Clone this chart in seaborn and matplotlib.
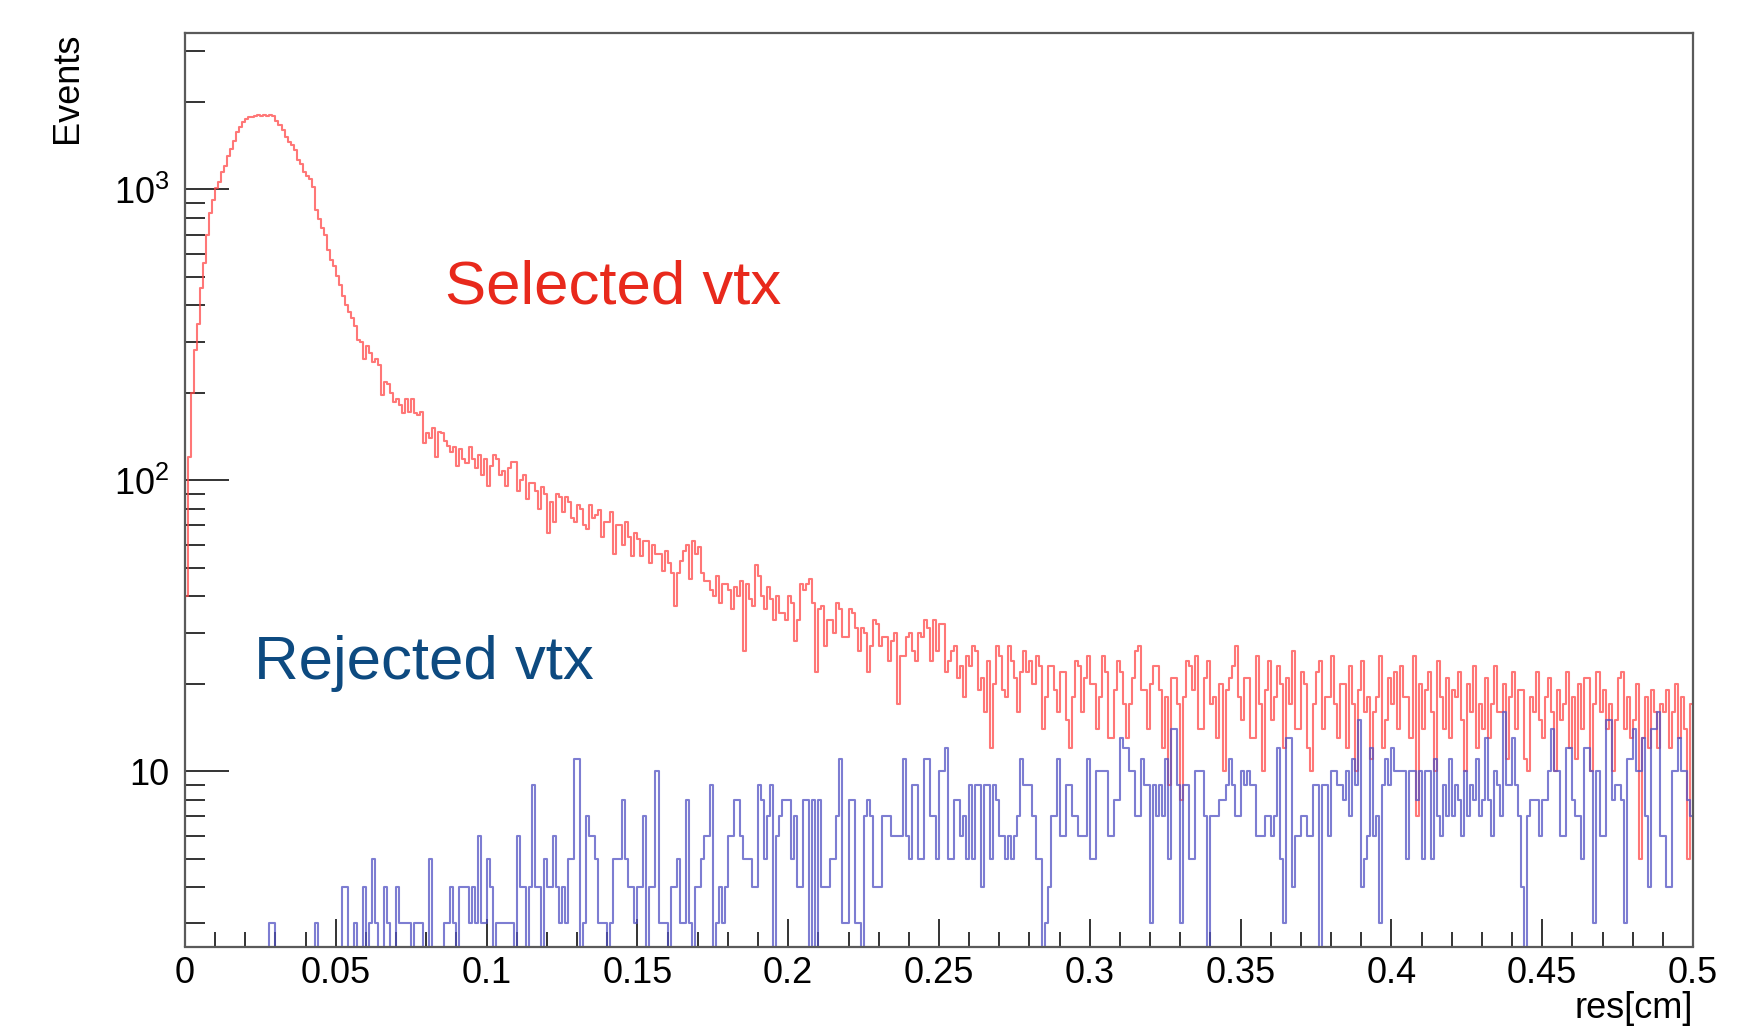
import numpy as np
import pandas as pd
import matplotlib
matplotlib.use("Agg")
import matplotlib.pyplot as plt
import matplotlib.ticker as mticker
from matplotlib import font_manager
import seaborn as sns

# ---------------- data (counts per bin, 500 bins of 0.001 cm) ----------------
selected = [
    40, 120, 200, 280, 345, 460, 560, 700, 830, 920,
    1010, 1060, 1150, 1200, 1300, 1380, 1470, 1570, 1640, 1710,
    1740, 1770, 1780, 1790, 1800, 1790, 1810, 1795, 1800, 1790,
    1720, 1660, 1600, 1520, 1460, 1420, 1370, 1260, 1220, 1150,
    1110, 1090, 1020, 850, 790, 735, 700, 620, 570, 545,
    505, 470, 430, 400, 380, 362, 340, 305, 300, 262,
    290, 275, 255, 262, 250, 196, 218, 214, 200, 186,
    190, 182, 170, 190, 172, 190, 170, 168, 172, 134,
    145, 140, 152, 120, 147, 145, 137, 131, 125, 130,
    112, 128, 118, 115, 130, 118, 110, 122, 104, 118,
    96, 112, 122, 118, 104, 108, 96, 110, 116, 116,
    92, 100, 104, 86, 98, 98, 92, 80, 95, 90,
    66, 84, 72, 90, 88, 78, 88, 84, 74, 72,
    82, 80, 70, 68, 82, 74, 76, 79, 64, 72,
    72, 78, 56, 70, 70, 60, 72, 64, 55, 66,
    63, 55, 62, 62, 52, 60, 56, 56, 49, 57,
    52, 48, 37, 48, 53, 57, 60, 46, 62, 56,
    59, 48, 45, 45, 42, 40, 47, 38, 44, 44,
    42, 36, 43, 40, 45, 26, 44, 39, 37, 51,
    47, 40, 36, 43, 39, 33, 40, 35, 35, 33,
    40, 38, 28, 33, 44, 42, 44, 46, 38, 22,
    36, 37, 27, 33, 33, 30, 38, 36, 29, 29,
    36, 35, 31, 26, 31, 30, 22, 27, 33, 32,
    27, 29, 29, 24, 28, 30, 17, 25, 25, 29,
    30, 26, 24, 30, 29, 33, 31, 24, 33, 26,
    32, 32, 22, 24, 26, 27, 21, 23, 18, 25,
    23, 27, 26, 19, 21, 16, 24, 12, 20, 27,
    25, 19, 18, 27, 24, 21, 16, 22, 26, 22,
    24, 20, 25, 23, 14, 18, 23, 23, 19, 16,
    22, 22, 15, 12, 18, 24, 23, 16, 21, 25,
    20, 20, 14, 18, 25, 22, 13, 13, 19, 24,
    22, 17, 13, 17, 21, 26, 27, 19, 19, 14,
    20, 23, 23, 19, 12, 18, 9, 21, 21, 17,
    8, 18, 24, 23, 19, 25, 14, 14, 21, 24,
    17, 18, 13, 20, 10, 19, 21, 23, 27, 18,
    15, 21, 21, 13, 13, 25, 17, 10, 19, 24,
    15, 18, 23, 20, 12, 21, 17, 26, 14, 14,
    22, 20, 12, 10, 17, 22, 24, 14, 18, 18,
    25, 17, 13, 20, 20, 12, 23, 17, 10, 19,
    24, 16, 18, 11, 16, 18, 25, 12, 15, 21,
    17, 22, 14, 23, 18, 18, 13, 25, 7, 20,
    14, 19, 22, 16, 10, 24, 18, 14, 21, 13,
    19, 18, 22, 15, 10, 20, 16, 23, 12, 17,
    14, 21, 13, 17, 23, 16, 16, 20, 11, 18,
    22, 14, 19, 19, 11, 10, 18, 16, 22, 15,
    13, 18, 21, 16, 10, 19, 15, 17, 22, 12,
    18, 11, 20, 14, 21, 21, 10, 17, 22, 16,
    19, 14, 17, 10, 15, 21, 22, 14, 18, 13,
    15, 20, 5, 13, 18, 12, 19, 16, 12, 17,
    16, 19, 12, 16, 20, 13, 18, 14, 5, 17,
]

rejected = [
    0, 0, 0, 0, 0, 0, 0, 0, 0, 0,
    0, 0, 0, 1, 0, 0, 0, 0, 0, 0,
    0, 0, 0, 0, 0, 1, 0, 0, 3, 3,
    0, 0, 0, 0, 0, 0, 1, 0, 0, 0,
    0, 0, 0, 3, 0, 0, 0, 1, 0, 0,
    0, 2, 4, 4, 0, 1, 3, 0, 0, 4,
    2, 3, 5, 3, 0, 0, 4, 3, 2, 0,
    4, 3, 3, 3, 3, 2, 3, 3, 3, 0,
    2, 5, 0, 1, 0, 2, 3, 3, 4, 3,
    0, 4, 4, 4, 3, 4, 3, 6, 3, 3,
    5, 4, 0, 3, 3, 3, 3, 3, 3, 0,
    6, 4, 4, 0, 4, 9, 4, 4, 0, 5,
    4, 4, 6, 4, 3, 4, 3, 5, 5, 11,
    11, 0, 3, 7, 6, 6, 5, 3, 3, 3,
    0, 3, 5, 5, 5, 8, 5, 4, 4, 3,
    4, 4, 7, 0, 4, 4, 10, 3, 3, 3,
    0, 4, 4, 5, 3, 3, 8, 3, 0, 4,
    4, 5, 6, 6, 9, 0, 3, 4, 3, 4,
    6, 6, 8, 8, 6, 5, 5, 5, 4, 4,
    9, 8, 5, 7, 9, 0, 6, 7, 8, 8,
    8, 5, 7, 4, 4, 8, 8, 0, 8, 0,
    8, 4, 4, 4, 5, 5, 7, 11, 3, 3,
    8, 8, 3, 3, 0, 7, 8, 7, 4, 4,
    4, 7, 7, 7, 6, 6, 6, 6, 11, 6,
    5, 9, 9, 5, 5, 11, 11, 7, 7, 5,
    10, 10, 12, 5, 5, 8, 8, 6, 7, 5,
    9, 5, 9, 9, 4, 9, 9, 5, 9, 8,
    6, 6, 5, 6, 5, 6, 7, 11, 9, 9,
    9, 7, 5, 5, 0, 3, 4, 7, 7, 11,
    6, 6, 9, 9, 7, 7, 6, 6, 6, 11,
    5, 5, 10, 10, 10, 10, 6, 6, 8, 8,
    13, 12, 12, 10, 10, 7, 7, 11, 9, 9,
    3, 9, 7, 9, 7, 11, 5, 14, 14, 9,
    3, 9, 9, 5, 5, 10, 10, 10, 7, 0,
    7, 7, 7, 8, 8, 9, 11, 9, 7, 7,
    10, 9, 10, 9, 9, 6, 6, 6, 7, 7,
    6, 7, 12, 5, 3, 13, 13, 4, 6, 6,
    7, 7, 6, 6, 9, 9, 0, 9, 9, 6,
    10, 10, 9, 9, 8, 10, 7, 11, 9, 15,
    4, 5, 6, 12, 6, 7, 3, 9, 11, 9,
    12, 10, 10, 10, 10, 5, 10, 10, 8, 10,
    5, 10, 10, 5, 11, 7, 6, 9, 7, 11,
    7, 9, 8, 6, 10, 7, 9, 8, 11, 7,
    8, 13, 8, 6, 10, 9, 7, 16, 9, 9,
    13, 9, 7, 4, 0, 7, 8, 8, 8, 6,
    8, 8, 10, 14, 10, 10, 6, 6, 12, 12,
    8, 7, 7, 5, 12, 12, 10, 3, 10, 6,
    6, 15, 15, 8, 9, 9, 8, 3, 11, 11,
    14, 10, 10, 13, 7, 4, 14, 14, 16, 6,
    6, 4, 4, 10, 10, 13, 10, 10, 8, 7,
]

x_range = [0.0, 0.5]
n_bins = 500
xtick_values = [0, 0.05, 0.1, 0.15, 0.2, 0.25, 0.3, 0.35, 0.4, 0.45, 0.5]
xtick_labels = ["0", "0.05", "0.1", "0.15", "0.2", "0.25", "0.3", "0.35", "0.4", "0.45", "0.5"]
ytick_values = [10, 100, 1000]
ytick_labels = ["10", r"$\mathdefault{10^{2}}$", r"$\mathdefault{10^{3}}$"]
y_range = [2.5, 3450]
x_title = "res[cm]"
y_title = "Events"
label_selected = "Selected vtx"
label_rejected = "Rejected vtx"

# ---------------- style ----------------
sns.set_style("ticks")
fams = {f.name for f in font_manager.fontManager.ttflist}
main_font = "Liberation Sans" if "Liberation Sans" in fams else "DejaVu Sans"
narrow_font = "Liberation Sans Narrow" if "Liberation Sans Narrow" in fams else main_font
plt.rcParams["font.family"] = [main_font, "DejaVu Sans"]
plt.rcParams["mathtext.fontset"] = "custom"
plt.rcParams["mathtext.rm"] = main_font
plt.rcParams["mathtext.it"] = main_font
plt.rcParams["mathtext.bf"] = main_font

W, H = 1746, 1027
fig = plt.figure(figsize=(W / 100, H / 100), dpi=100)
fig.patch.set_facecolor("white")
ax_l, ax_r, ax_t, ax_b = 185, 1693, 33, 946.5
ax = fig.add_axes([ax_l / W, 1 - ax_b / H, (ax_r - ax_l) / W, (ax_b - ax_t) / H])
ax.set_facecolor("white")

edges = np.linspace(x_range[0], x_range[1], n_bins + 1)
centers = 0.5 * (edges[:-1] + edges[1:])
df_sel = pd.DataFrame({"res": centers, "count": selected})
df_rej = pd.DataFrame({"res": centers, "count": rejected})

sns.histplot(data=df_sel, x="res", weights="count", bins=n_bins, binrange=tuple(x_range),
             element="step", fill=False, color="#ff4a4a", alpha=0.75, linewidth=1.5, ax=ax)
sns.histplot(data=df_rej, x="res", weights="count", bins=n_bins, binrange=tuple(x_range),
             element="step", fill=False, color="#5252c4", alpha=0.75, linewidth=1.5, ax=ax)

ax.set_yscale("log")
ax.set_xlim(*x_range)
ax.set_ylim(*y_range)
ax.set_xlabel("")
ax.set_ylabel("")

ax.xaxis.set_major_locator(mticker.FixedLocator(xtick_values))
ax.xaxis.set_major_formatter(mticker.FixedFormatter(xtick_labels))
ax.xaxis.set_minor_locator(mticker.MultipleLocator(0.01))
ax.yaxis.set_major_locator(mticker.FixedLocator(ytick_values))
ax.yaxis.set_major_formatter(mticker.FixedFormatter(ytick_labels))
ax.yaxis.set_minor_locator(mticker.LogLocator(base=10, subs=np.arange(2, 10)))
ax.yaxis.set_minor_formatter(mticker.NullFormatter())

tick_col = "#333333"
ax.tick_params(axis="both", which="both", direction="in", top=False, right=False,
               color=tick_col, width=1.4, labelcolor="black", labelsize=26)
ax.tick_params(axis="x", which="major", length=20, pad=7)
ax.tick_params(axis="x", which="minor", length=10.5)
ax.tick_params(axis="y", which="major", length=31.5, pad=11)
ax.tick_params(axis="y", which="minor", length=14.5)
for s in ax.spines.values():
    s.set_color("#5a5a5a")
    s.set_linewidth(1.6)

fig.text(67 / W, 1 - 33 / H, y_title, rotation=90, ha="center", va="top",
         fontsize=26, family=[narrow_font, "DejaVu Sans"], color="black")
fig.text(ax_r / W, 1 - 1008 / H, x_title, ha="right", va="center",
         fontsize=26, family=[narrow_font, "DejaVu Sans"], color="black")

fig.text(445 / W, 1 - 303 / H, label_selected, ha="left", va="baseline",
         fontsize=44.5, color="#e8291c")
fig.text(254 / W, 1 - 679 / H, label_rejected, ha="left", va="baseline",
         fontsize=44.5, color="#0d4a80")

fig.savefig("out.png", dpi=100, facecolor="white")
